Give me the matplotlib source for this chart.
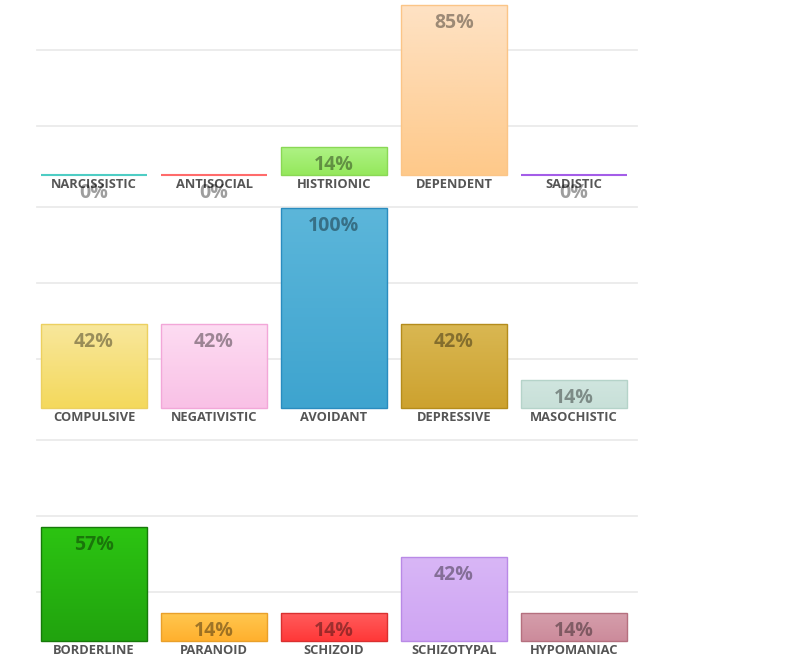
#!/usr/bin/env python3

# Run: python3 plot.py

import matplotlib

matplotlib.use("Agg")

import matplotlib.pyplot as plt
import numpy as np
from matplotlib.colors import LinearSegmentedColormap

plt.rcParams["font.family"] = ["Open Sans", "DejaVu Sans"]

ROW1_LABELS = ["NARCISSISTIC", "ANTISOCIAL", "HISTRIONIC", "DEPENDENT", "SADISTIC"]
ROW1_VALUES = [0, 0, 14, 85, 0]

ROW2_LABELS = ["COMPULSIVE", "NEGATIVISTIC", "AVOIDANT", "DEPRESSIVE", "MASOCHISTIC"]
ROW2_VALUES = [42, 42, 100, 42, 14]

ROW3_LABELS = ["BORDERLINE", "PARANOID", "SCHIZOID", "SCHIZOTYPAL", "HYPOMANIAC"]
ROW3_VALUES = [57, 14, 14, 42, 14]

# (top, bottom, edge)
ROW1_COLORS = [
	("#4ecdc4", "#4ecdc4", "#4ecdc4"),
	("#ff6b6b", "#ff6b6b", "#ff6b6b"),
	("#aef285", "#95e85c", "#8ad855"),
	("#fee2c4", "#fec98a", "#fbc587"),
	("#a45de8", "#a45de8", "#a45de8"),
]
ROW2_COLORS = [
	("#f8e79c", "#f4d95c", "#ecd060"),
	("#fddcf2", "#f9c1e6", "#f2a7d8"),
	("#5cb6da", "#3ea4cf", "#2a8cbf"),
	("#d9b752", "#cda22f", "#b48c1c"),
	("#d0e5df", "#c8e0d8", "#b5d3c9"),
]
ROW3_COLORS = [
	("#2cc412", "#21a30e", "#167a09"),
	("#ffc74f", "#ffb02e", "#e9a02a"),
	("#ff5c5c", "#ff3838", "#d93030"),
	("#d8b6f6", "#cfa5f3", "#b98ae6"),
	("#d59eab", "#cc8b9b", "#b5707f"),
]

GRID_LEVELS = [24.5, 62.5, 100.5]

W, H = 798, 666
LEFT, RIGHT = 37, 637
BASELINES = [175, 408, 641]
PX_PER_UNIT = 2.0
TOP = 100.5


def draw_row(fig, baseline, labels, values, colors):
	height_px = TOP * PX_PER_UNIT
	ax = fig.add_axes([LEFT / W, (H - baseline) / H, (RIGHT - LEFT) / W, height_px / H])
	ax.set_axis_off()

	for level in GRID_LEVELS:
		ax.axhline(level, color="#ebebeb", lw=1.3, zorder=0, clip_on=False)

	pad = 4 / 120
	width = 106 / 120
	x = np.arange(len(values))
	bars = ax.bar(x + pad, values, width=width, align="edge", linewidth=1.0, zorder=2)

	for bar, value, label, (top, bottom, edge) in zip(bars, values, labels, colors):
		bar.set_clip_on(False)
		bar.set_edgecolor(edge)
		if value > 0:
			bar.set_facecolor("none")
			cmap = LinearSegmentedColormap.from_list("g", [bottom, top])
			grad = np.linspace(0, 1, 64).reshape(-1, 1)
			im = ax.imshow(
				grad,
				cmap=cmap,
				origin="lower",
				aspect="auto",
				extent=(bar.get_x(), bar.get_x() + width, 0, value),
				zorder=1,
			)
			im.set_clip_path(bar)
		else:
			bar.set_facecolor(edge)
			bar.set_linewidth(1.5)

		cx = bar.get_x() + width / 2
		ax.annotate(
			label,
			(cx, 0),
			xytext=(0, -6.8),
			textcoords="offset points",
			ha="center",
			va="center",
			fontsize=9.3,
			fontweight="bold",
			color="#555555",
			annotation_clip=False,
			zorder=3,
		)
		ax.annotate(
			f"{value}%",
			(cx, value),
			xytext=(0, -12.8),
			textcoords="offset points",
			ha="center",
			va="center",
			fontsize=14,
			fontweight="bold",
			color=(0, 0, 0, 0.38),
			annotation_clip=False,
			zorder=4,
		)

	ax.set_xlim(0, len(values))
	ax.set_ylim(0, TOP)


def main():
	fig = plt.figure(figsize=(W / 100, H / 100), dpi=100)
	fig.patch.set_facecolor("white")

	rows = [
		(ROW1_LABELS, ROW1_VALUES, ROW1_COLORS),
		(ROW2_LABELS, ROW2_VALUES, ROW2_COLORS),
		(ROW3_LABELS, ROW3_VALUES, ROW3_COLORS),
	]
	for baseline, (labels, values, colors) in zip(BASELINES, rows):
		draw_row(fig, baseline, labels, values, colors)

	fig.savefig("out.png", dpi=100)


if __name__ == "__main__":
	main()
